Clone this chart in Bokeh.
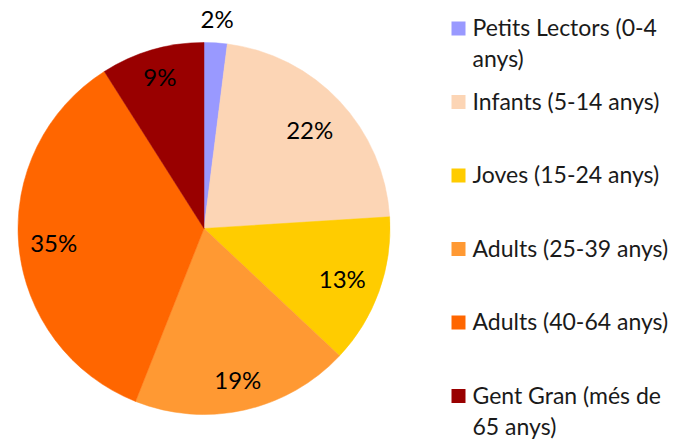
import math
import textwrap
from bokeh.plotting import figure
from bokeh.models import Range1d, ColumnDataSource
from bokeh.core.properties import value
from bokeh.embed import file_html
from bokeh.resources import INLINE

# ---- data ----
categories = ["Petits Lectors (0-4 anys)", "Infants (5-14 anys)", "Joves (15-24 anys)",
              "Adults (25-39 anys)", "Adults (40-64 anys)", "Gent Gran (més de 65 anys)"]
shares = [2, 22, 13, 19, 35, 9]
colors = ["#9999FF", "#FCD5B5", "#FFCC00", "#FF9933", "#FF6600", "#990000"]

# ---- layout / style ----
W, H = 684, 439
CX, CY, R = 203.5, H - 228, 186
label_r = [210, 145, 147, 155, 151, 158]
FONT = "Lato"

p = figure(width=W, height=H, output_backend="svg", toolbar_location=None,
           x_range=Range1d(0, W), y_range=Range1d(0, H), min_border=0)
p.axis.visible = False
p.grid.visible = False
p.outline_line_color = None
p.background_fill_color = "white"
p.border_fill_color = "white"

total = sum(shares)
starts, ends, mids = [], [], []
cum = 0
for v in shares:
    a0 = math.pi / 2 - 2 * math.pi * cum / total
    cum += v
    a1 = math.pi / 2 - 2 * math.pi * cum / total
    starts.append(a0)
    ends.append(a1)
    mids.append((a0 + a1) / 2)

src = ColumnDataSource(dict(x=[CX] * len(shares), y=[CY] * len(shares),
                            start=starts, end=ends, color=colors))
p.wedge(x="x", y="y", radius=R, start_angle="start", end_angle="end",
        direction="clock", fill_color="color", line_color="color", line_width=0.5,
        source=src)

lab = ColumnDataSource(dict(
    x=[CX + r * math.cos(m) for r, m in zip(label_r, mids)],
    y=[CY + r * math.sin(m) for r, m in zip(label_r, mids)],
    t=[f"{v}%" for v in shares]))
p.text(x="x", y="y", text="t", source=lab, text_align="center", text_baseline="middle",
       text_font=value(FONT), text_font_size="24px", text_color="#000000")

# ---- legend ----
SQ_X, SQ_Y0, STEP, LINE = 458, H - 28, 73.5, 31
p.rect(x=[SQ_X] * len(categories), y=[SQ_Y0 - STEP * i for i in range(len(categories))],
       width=14, height=14, fill_color=colors, line_color=None)
lx, ly, lt = [], [], []
for i, c in enumerate(categories):
    for k, line in enumerate(textwrap.wrap(c, 19)):
        lx.append(472)
        ly.append(H - 26.5 - STEP * i - LINE * k)
        lt.append(line)
p.text(x=lx, y=ly, text=lt, text_align="left", text_baseline="middle",
       text_font=value(FONT), text_font_size="23px", text_color="#1a1a1a")

open("out.html", "w").write(file_html(p, INLINE))
